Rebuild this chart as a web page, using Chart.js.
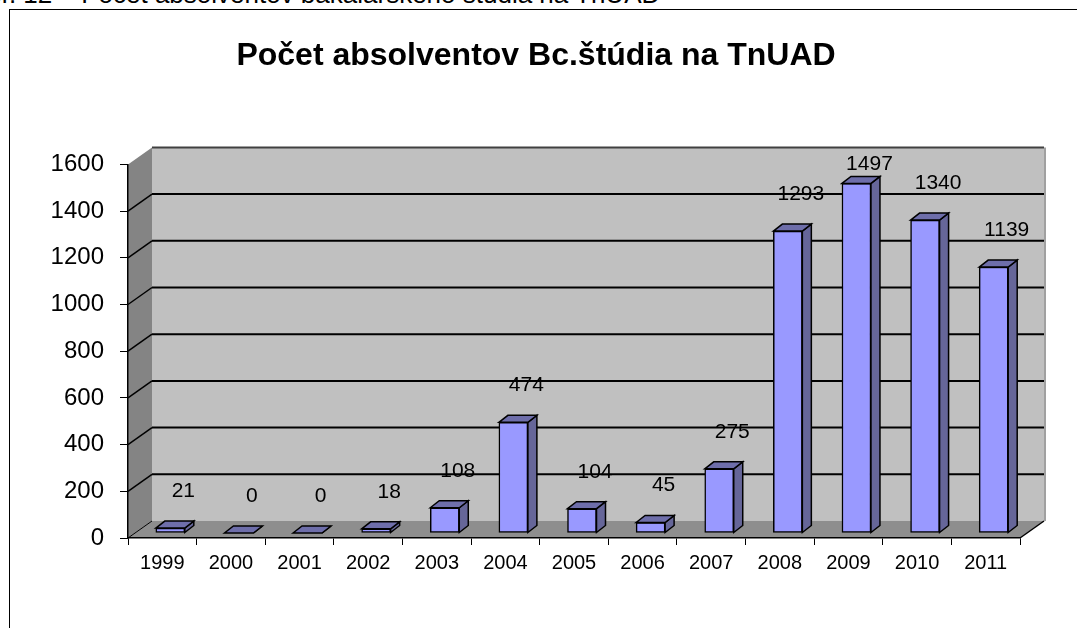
<!DOCTYPE html>
<html>
<head>
<meta charset="utf-8">
<title>Počet absolventov Bc.štúdia na TnUAD</title>
<script src="https://cdn.jsdelivr.net/npm/chart.js@4"></script>
<style>
  html, body { margin: 0; padding: 0; background: #fff; width: 1077px; height: 628px; overflow: hidden; }
  #caption { position: absolute; left: -33px; top: -19px; font: 26px "Liberation Sans", Arial, sans-serif; line-height: 26px; white-space: nowrap; color: #000; }
  #frame { position: absolute; left: 9px; top: 9px; width: 1200px; height: 800px; border: 1px solid #000; }
  #chart { position: absolute; left: 0; top: 0; }
</style>
</head>
<body>
<div id="caption">Obr. 12 – Počet absolventov bakalárskeho štúdia na TnUAD</div>
<div id="frame"></div>
<canvas id="chart" width="1077" height="628"></canvas>
<script>
// data
const years = ['1999', '2000', '2001', '2002', '2003', '2004', '2005', '2006', '2007', '2008', '2009', '2010', '2011'];
const graduates = [21, 0, 0, 18, 108, 474, 104, 45, 275, 1293, 1497, 1340, 1139];
const yTicks = [0, 200, 400, 600, 800, 1000, 1200, 1400, 1600];

Chart.defaults.font.family = '"Liberation Sans", Arial, sans-serif';
Chart.defaults.color = '#000';

// depth of the 3D box and of the bars
const wallDx = 24, wallDy = -17;
const barShiftX = 8, barShiftY = -5;
const barDx = 9, barDy = -7;

// walls, floor and back gridlines
const wallsPlugin = {
    id: 'walls',
    beforeDraw(chart) {
        const ctx = chart.ctx;
        const a = chart.chartArea;
        const y = chart.scales.y;
        ctx.save();
        // back wall
        ctx.fillStyle = '#c0c0c0';
        ctx.fillRect(a.left + wallDx, a.top + wallDy, a.right - a.left, a.bottom - a.top);
        // left wall
        ctx.fillStyle = '#848484';
        ctx.beginPath();
        ctx.moveTo(a.left, a.top);
        ctx.lineTo(a.left + wallDx, a.top + wallDy);
        ctx.lineTo(a.left + wallDx, a.bottom + wallDy);
        ctx.lineTo(a.left, a.bottom);
        ctx.closePath();
        ctx.fill();
        // floor
        ctx.fillStyle = '#8e8e8e';
        ctx.beginPath();
        ctx.moveTo(a.left, a.bottom);
        ctx.lineTo(a.left + wallDx, a.bottom + wallDy);
        ctx.lineTo(a.right + wallDx, a.bottom + wallDy);
        ctx.lineTo(a.right, a.bottom);
        ctx.closePath();
        ctx.fill();
        // back wall right edge
        ctx.strokeStyle = '#a0a0a0';
        ctx.lineWidth = 2;
        ctx.beginPath();
        ctx.moveTo(a.right + wallDx + 1, a.top + wallDy);
        ctx.lineTo(a.right + wallDx + 1, a.bottom + wallDy);
        ctx.stroke();
        // gridlines on the back wall and the left wall
        yTicks.forEach(v => {
            const py = y.getPixelForValue(v);
            if (v > 0) {
                ctx.strokeStyle = v === yTicks[yTicks.length - 1] ? '#404040' : '#000';
                ctx.lineWidth = 2;
                ctx.beginPath();
                ctx.moveTo(a.left + wallDx, py + wallDy);
                ctx.lineTo(a.right + wallDx, py + wallDy);
                ctx.stroke();
            }
            if (v < yTicks[yTicks.length - 1]) {
                ctx.strokeStyle = '#000';
                ctx.lineWidth = v === 0 ? 1 : 1.5;
                ctx.beginPath();
                ctx.moveTo(a.left, py);
                ctx.lineTo(a.left + wallDx, py + wallDy);
                ctx.stroke();
            }
        });
        // floor right edge
        ctx.strokeStyle = '#000';
        ctx.lineWidth = 1.5;
        ctx.beginPath();
        ctx.moveTo(a.right, a.bottom);
        ctx.lineTo(a.right + wallDx, a.bottom + wallDy);
        ctx.stroke();
        ctx.restore();
    }
};

// side and top faces of the bars
const barsPlugin = {
    id: 'bars3d',
    beforeDatasetDraw(chart) {
        chart.ctx.save();
        chart.ctx.translate(barShiftX, barShiftY);
    },
    afterDatasetDraw(chart, args) {
        const ctx = chart.ctx;
        args.meta.data.forEach(bar => {
            const p = bar.getProps(['x', 'y', 'base', 'width'], true);
            const l = p.x - p.width / 2, r = p.x + p.width / 2;
            ctx.lineWidth = 1.5;
            ctx.strokeStyle = '#000';
            // side
            ctx.fillStyle = '#666699';
            ctx.beginPath();
            ctx.moveTo(r, p.base);
            ctx.lineTo(r + barDx, p.base + barDy);
            ctx.lineTo(r + barDx, p.y + barDy);
            ctx.lineTo(r, p.y);
            ctx.closePath();
            ctx.fill();
            ctx.stroke();
            // top
            ctx.fillStyle = '#6e6eaa';
            ctx.beginPath();
            ctx.moveTo(l, p.y);
            ctx.lineTo(l + barDx, p.y + barDy);
            ctx.lineTo(r + barDx, p.y + barDy);
            ctx.lineTo(r, p.y);
            ctx.closePath();
            ctx.fill();
            ctx.stroke();
        });
        ctx.restore();
    }
};

// value labels, placed above and right of each bar like in the original
const labelsPlugin = {
    id: 'valueLabels',
    afterDatasetsDraw(chart) {
        const ctx = chart.ctx;
        const meta = chart.getDatasetMeta(0);
        ctx.save();
        ctx.font = '21px "Liberation Sans", Arial, sans-serif';
        ctx.fillStyle = '#000';
        ctx.textAlign = 'center';
        ctx.textBaseline = 'middle';
        meta.data.forEach((bar, i) => {
            const p = bar.getProps(['x', 'y'], true);
            const ly = Math.max(p.y - 42, chart.chartArea.top);
            ctx.fillText(String(graduates[i]), p.x + 21, ly);
        });
        ctx.restore();
    }
};

new Chart(document.getElementById('chart'), {
    type: 'bar',
    data: {
        labels: years,
        datasets: [{
            data: graduates,
            backgroundColor: '#9999ff',
            borderColor: '#000',
            borderWidth: 1.5,
            borderSkipped: false,
            barThickness: 29
        }]
    },
    plugins: [wallsPlugin, barsPlugin, labelsPlugin],
    options: {
        responsive: false,
        animation: false,
        layout: { padding: { left: 52, right: 57, top: 0, bottom: 50 } },
        plugins: {
            legend: { display: false },
            tooltip: { enabled: false },
            title: {
                display: true,
                text: 'Počet absolventov Bc.štúdia na TnUAD',
                color: '#000',
                font: { size: 32, weight: 'bold' },
                padding: { top: 37, bottom: 89 }
            }
        },
        scales: {
            x: {
                offset: true,
                grid: { offset: true, drawOnChartArea: false, color: '#000', tickLength: 7 },
                border: { color: '#000', width: 1.5 },
                ticks: { color: '#000', font: { size: 20 }, padding: 6, maxRotation: 0 },
                afterFit(s) { s.height = 40; }
            },
            y: {
                min: yTicks[0],
                max: yTicks[yTicks.length - 1],
                afterBuildTicks(s) { s.ticks = yTicks.map(v => ({ value: v })); },
                grid: { drawOnChartArea: false, color: '#000', tickLength: 8 },
                border: { color: '#000', width: 1.5 },
                ticks: { color: '#000', font: { size: 24 }, padding: 16, callback: v => String(v) },
                afterFit(s) { s.width = 76; }
            }
        }
    }
});
</script>
</body>
</html>
